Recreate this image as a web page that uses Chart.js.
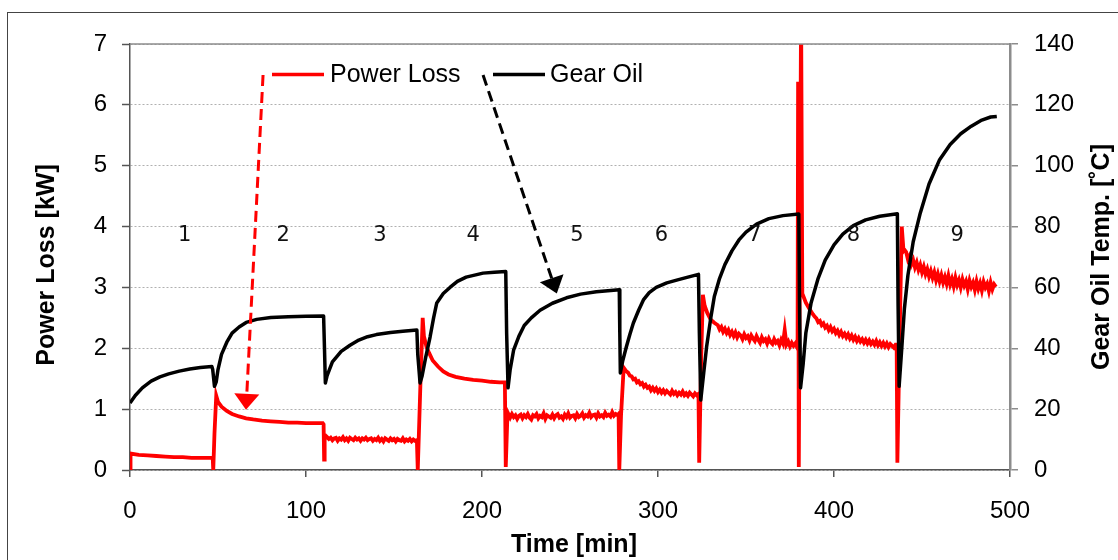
<!DOCTYPE html>
<html>
<head>
<meta charset="utf-8">
<script src="https://cdn.jsdelivr.net/npm/chart.js@4.4.1/dist/chart.umd.min.js"></script>
<style>
  html, body { margin: 0; padding: 0; background: #fff; }
  #wrap { position: relative; width: 1118px; height: 560px; overflow: hidden; }
  #frame { position: absolute; left: 7px; top: 12px; width: 1200px; height: 700px; border: 1px solid #444; }
  canvas { position: absolute; left: 0; top: 0; }
</style>
</head>
<body>
<div id="wrap">
  <div id="frame"></div>
  <canvas id="chart" width="1118" height="560"></canvas>
</div>
<script>
// power loss [kW]: step changes and transients (time in min)
const lossTime = [0, 0.3, 5, 10, 15, 20, 25, 30, 35, 40, 45, 47,
  47.3, 48, 49, 50, 52, 55, 58, 62, 66, 70, 75, 80, 85, 90, 95, 100, 105, 109.5, 110, 110.3, 110.6,
  163, 163.5, 165, 166.3, 167, 168.5, 170, 172, 175, 178, 181, 185, 190, 195, 200, 205, 210, 213, 213.5, 214.5,
  277.6, 278, 279, 280.5, 282,
  323, 323.4, 324.5, 325.5, 326.5, 328, 330, 332, 333,
  379.3, 379.6, 380, 381.3, 382, 384, 386, 388, 389,
  435.6, 436, 437.5, 438.5, 439.5, 440];
const lossKW = [0, 0.27, 0.25, 0.24, 0.23, 0.22, 0.21, 0.21, 0.2, 0.2, 0.2, 0.2,
  0.0, 0.6, 1.22, 1.12, 1.04, 0.97, 0.92, 0.88, 0.85, 0.83, 0.81, 0.8, 0.79, 0.78, 0.78, 0.77, 0.77, 0.77, 0.75, 0.17, 0.58,
  0.49, 0.0, 1.4, 2.5, 2.2, 2.02, 1.92, 1.8, 1.7, 1.62, 1.57, 1.53, 1.5, 1.48, 1.47, 1.45, 1.44, 1.44, 0.05, 0.95,
  0.92, 0.0, 0.9, 1.68, 1.62,
  1.25, 0.12, 1.8, 2.88, 2.7, 2.58, 2.47, 2.42, 2.4,
  2.0, 6.38, 0.05, 7.6, 2.9, 2.75, 2.65, 2.56, 2.52,
  2.06, 0.12, 2.5, 4.0, 3.6, 3.62];

// power loss [kW]: logged once a minute during the noisy steady parts
const stage3Start = 112;
const stage3KW = [0.54, 0.51, 0.53, 0.49, 0.52, 0.53, 0.48, 0.52, 0.5, 0.54,
  0.49, 0.52, 0.48, 0.53, 0.51, 0.49, 0.53, 0.5, 0.52, 0.48,
  0.52, 0.5, 0.53, 0.49, 0.51, 0.52, 0.48, 0.51, 0.49, 0.53,
  0.48, 0.51, 0.47, 0.52, 0.5, 0.48, 0.52, 0.49, 0.51, 0.47,
  0.51, 0.49, 0.48, 0.52, 0.47, 0.5, 0.48, 0.51, 0.47, 0.5, 0.48];
const stage5Start = 216;
const stage5KW = [0.86, 0.92, 0.87, 0.9, 0.84, 0.89, 0.91, 0.85, 0.9, 0.87,
  0.92, 0.86, 0.83, 0.9, 0.88, 0.92, 0.85, 0.89, 0.87, 0.93,
  0.84, 0.9, 0.88, 0.86, 0.91, 0.85, 0.9, 0.92, 0.86, 0.88,
  0.84, 0.91, 0.87, 0.93, 0.86, 0.89, 0.9, 0.85, 0.92, 0.87,
  0.89, 0.93, 0.86, 0.9, 0.88, 0.94, 0.87, 0.9, 0.91, 0.86,
  0.93, 0.88, 0.9, 0.87, 0.94, 0.89, 0.91, 0.88, 0.95, 0.89, 0.92, 0.9];
const stage6Start = 283;
const stage6KW = [1.6, 1.55, 1.54, 1.49, 1.5, 1.44, 1.46, 1.41, 1.43, 1.37,
  1.4, 1.35, 1.37, 1.31, 1.35, 1.3, 1.34, 1.28, 1.32, 1.27,
  1.31, 1.26, 1.3, 1.27, 1.24, 1.3, 1.25, 1.28, 1.23, 1.27,
  1.24, 1.29, 1.23, 1.26, 1.22, 1.27, 1.24, 1.21, 1.26, 1.23];
const stage7Start = 334;
const stage7KW = [2.38, 2.31, 2.35, 2.27, 2.32, 2.25, 2.3, 2.22, 2.27, 2.2,
  2.26, 2.18, 2.24, 2.21, 2.15, 2.23, 2.17, 2.2, 2.13, 2.21,
  2.16, 2.12, 2.2, 2.14, 2.09, 2.18, 2.12, 2.15, 2.08, 2.16,
  2.1, 2.07, 2.15, 2.09, 2.12, 2.05, 2.14, 2.08, 2.3, 2.06,
  2.11, 2.03, 2.09, 2.04, 2.08];
const stage8Start = 390;
const stage8KW = [2.49, 2.43, 2.45, 2.38, 2.41, 2.34, 2.37, 2.3, 2.35, 2.28,
  2.32, 2.25, 2.29, 2.22, 2.27, 2.2, 2.24, 2.18, 2.23, 2.16,
  2.21, 2.14, 2.19, 2.12, 2.17, 2.11, 2.15, 2.09, 2.14, 2.08,
  2.13, 2.07, 2.11, 2.06, 2.12, 2.05, 2.1, 2.04, 2.09, 2.03,
  2.08, 2.02, 2.07, 2.04, 2.01, 2.06];
const stage9Start = 441;
const stage9KW = [3.58, 3.46, 3.52, 3.38, 3.45, 3.33, 3.41, 3.29, 3.37, 3.25,
  3.34, 3.22, 3.3, 3.18, 3.27, 3.16, 3.25, 3.12, 3.22, 3.1,
  3.2, 3.08, 3.17, 3.06, 3.19, 3.05, 3.14, 3.02, 3.16, 3.04,
  3.12, 3.0, 3.13, 3.03, 3.1, 2.97, 3.11, 3.01, 3.08, 2.96,
  3.1, 2.98, 3.07, 2.95, 3.09, 3.0, 3.06, 2.94, 3.08, 2.97,
  3.05, 3.01];

// gear oil temperature [°C] vs time [min]
const oilTime = [0, 3, 7, 12, 17, 22, 28, 34, 40, 46.5,
  47, 48, 49, 50, 52, 55, 58, 62, 66, 72, 80, 90, 100, 110,
  110.5, 111, 112, 115, 120, 125, 130, 135, 140, 148, 155, 163,
  163.5, 164.8, 166, 168, 170.5, 172.5, 174.3, 178, 181.8, 186, 191, 200.6, 207, 213.5,
  214, 214.8, 216, 218, 221, 224, 228, 233, 240, 248, 256, 265, 278,
  278.3, 278.6, 280, 282, 284, 286, 289, 291.7, 295, 299, 305, 310.6, 317, 323,
  323.5, 324.3, 326, 327.6, 330, 332, 335, 338, 342, 346, 350, 356, 363, 371, 380,
  380.4, 381, 382.5, 384, 387, 391, 395, 400, 405, 411, 418, 426, 436,
  436.4, 437, 438.5, 440, 442, 445, 449, 454, 460, 466, 472, 478, 484, 489, 492.5];
const oilTemp = [22, 24.5, 27, 29.2, 30.6, 31.6, 32.5, 33.2, 33.7, 34,
  33, 27.5, 29, 33, 38, 42, 45, 47, 48.5, 49.5, 50.1, 50.4, 50.5, 50.6,
  40, 28.6, 31, 35.5, 39, 41, 42.7, 43.8, 44.5, 45.2, 45.6, 46,
  38, 28.6, 31, 37, 43.7, 50, 54.9, 58, 60, 62, 63.4, 64.7, 65, 65.2,
  45, 27, 33, 39.5, 44, 47.5, 50, 52.5, 54.8, 56.6, 57.8, 58.6, 59.2,
  45, 31.9, 36, 40.4, 44.5, 48.3, 52.5, 55.9, 58.3, 60, 61.5, 62.4, 63.4, 64.3,
  45, 23, 32, 40.4, 50, 57, 63, 67.5, 72, 75.6, 78.2, 80.8, 82.6, 83.6, 84.1,
  55, 27, 35, 45, 55, 63, 69, 74, 77.5, 80.3, 82.2, 83.4, 84.2,
  55, 27.5, 40, 53, 64, 75, 84.4, 94, 102, 107, 110.5, 113, 115, 116, 116.2];

// annotations
const stageNames = ['1', '2', '3', '4', '5', '6', '7', '8', '9'];
const stageTime = [31, 87, 142, 195, 254, 302, 355, 411, 470];
const stageKW = 3.86;

const toPoints = (xs, ys) => xs.map((x, i) => ({ x, y: ys[i] }));
const sampled = (start, ys) => ys.map((y, i) => ({ x: start + i, y }));

const lossPoints = toPoints(lossTime, lossKW)
  .concat(sampled(stage3Start, stage3KW), sampled(stage5Start, stage5KW), sampled(stage6Start, stage6KW),
    sampled(stage7Start, stage7KW), sampled(stage8Start, stage8KW), sampled(stage9Start, stage9KW))
  .sort((a, b) => a.x - b.x);

const overlay = {
  id: 'overlay',
  afterDatasetsDraw(chart) {
    const { ctx, chartArea: a, scales } = chart;
    const sx = scales.x, sy = scales.y;
    ctx.save();
    // top edge of plot area
    ctx.strokeStyle = '#8c8c8c';
    ctx.lineWidth = 1.5;
    ctx.beginPath();
    ctx.moveTo(a.left, a.top);
    ctx.lineTo(a.right, a.top);
    ctx.stroke();

    // stage numbers
    ctx.fillStyle = '#111';
    ctx.font = '21px "DejaVu Sans"';
    ctx.textAlign = 'center';
    ctx.textBaseline = 'middle';
    stageNames.forEach((s, i) => ctx.fillText(s, sx.getPixelForValue(stageTime[i]), sy.getPixelForValue(stageKW)));

    // legend
    const ly = sy.getPixelForValue(6.5);
    ctx.lineWidth = 3.5;
    ctx.strokeStyle = '#ff0000';
    ctx.beginPath(); ctx.moveTo(272, ly); ctx.lineTo(324, ly); ctx.stroke();
    ctx.strokeStyle = '#000';
    ctx.beginPath(); ctx.moveTo(493, ly); ctx.lineTo(545, ly); ctx.stroke();
    ctx.font = '25px "Liberation Sans"';
    ctx.textAlign = 'left';
    ctx.fillStyle = '#000';
    ctx.fillText('Power Loss', 330, ly + 1);
    ctx.fillText('Gear Oil', 550, ly + 1);

    // dashed arrows
    const arrow = (t0, v0, t1, v1, color) => {
      const x0 = sx.getPixelForValue(t0), y0 = sy.getPixelForValue(v0);
      const x1 = sx.getPixelForValue(t1), y1 = sy.getPixelForValue(v1);
      const ang = Math.atan2(y1 - y0, x1 - x0);
      const head = 16, half = 12.5;
      const bx = x1 - head * Math.cos(ang), by = y1 - head * Math.sin(ang);
      ctx.strokeStyle = color;
      ctx.fillStyle = color;
      ctx.lineWidth = 3;
      ctx.setLineDash([11, 6]);
      ctx.beginPath(); ctx.moveTo(x0, y0); ctx.lineTo(bx, by); ctx.stroke();
      ctx.setLineDash([]);
      ctx.beginPath();
      ctx.moveTo(x1, y1);
      ctx.lineTo(bx + half * Math.sin(ang), by - half * Math.cos(ang));
      ctx.lineTo(bx - half * Math.sin(ang), by + half * Math.cos(ang));
      ctx.closePath();
      ctx.fill();
    };
    arrow(75.6, 6.49, 65.9, 0.99, '#ff0000');
    arrow(200.6, 6.49, 242.5, 2.9, '#000');

    // axis titles
    ctx.fillStyle = '#000';
    ctx.font = 'bold 25px "Liberation Sans"';
    ctx.textAlign = 'center';
    ctx.textBaseline = 'middle';
    ctx.fillText('Time [min]', 574, 545);
    ctx.save();
    ctx.translate(47, 265);
    ctx.rotate(-Math.PI / 2);
    ctx.fillText('Power Loss [kW]', 0, 0);
    ctx.restore();
    ctx.save();
    ctx.translate(1102, 257);
    ctx.rotate(-Math.PI / 2);
    ctx.fillText('Gear Oil Temp. [˚C]', 0, 0);
    ctx.restore();
    ctx.restore();
  }
};

const tickFont = { family: '"Liberation Sans"', size: 24 };

new Chart(document.getElementById('chart'), {
  type: 'line',
  data: {
    datasets: [
      {
        label: 'Gear Oil',
        data: toPoints(oilTime, oilTemp),
        yAxisID: 'y1',
        borderColor: '#000',
        borderWidth: 3.5,
        pointRadius: 0,
        tension: 0,
        borderJoinStyle: 'round',
        order: 0
      },
      {
        label: 'Power Loss',
        data: lossPoints,
        yAxisID: 'y',
        borderColor: '#ff0000',
        borderWidth: 3.8,
        pointRadius: 0,
        tension: 0,
        order: 1
      }
    ]
  },
  options: {
    responsive: false,
    animation: false,
    devicePixelRatio: 1,
    layout: { padding: { top: 44, left: 0, right: 0, bottom: 0 } },
    plugins: { legend: { display: false }, tooltip: { enabled: false } },
    scales: {
      x: {
        type: 'linear',
        min: 0, max: 500,
        afterFit: s => { s.height = 90 },
        ticks: { stepSize: 100, color: '#000', font: tickFont, padding: 20, maxRotation: 0 },
        grid: { drawOnChartArea: false, drawTicks: true, tickLength: 7, color: '#555', lineWidth: 1.5 },
        border: { color: '#555', width: 1.5 }
      },
      y: {
        position: 'left',
        min: 0, max: 7,
        afterFit: s => { s.width = 130 },
        ticks: { stepSize: 1, color: '#000', font: tickFont, padding: 15 },
        grid: { color: '#b0b0b0', lineWidth: 1, tickLength: 8, tickColor: '#555', tickWidth: 1.5 },
        border: { color: '#555', width: 1.5, dash: [2, 2] }
      },
      y1: {
        position: 'right',
        min: 0, max: 140,
        afterFit: s => { s.width = 108 },
        ticks: { stepSize: 20, color: '#000', font: tickFont, padding: 16 },
        grid: { drawOnChartArea: false, tickLength: 8, color: '#8c8c8c', lineWidth: 1.5 },
        border: { color: '#8c8c8c', width: 2.5 }
      }
    }
  },
  plugins: [overlay]
});
</script>
</body>
</html>
